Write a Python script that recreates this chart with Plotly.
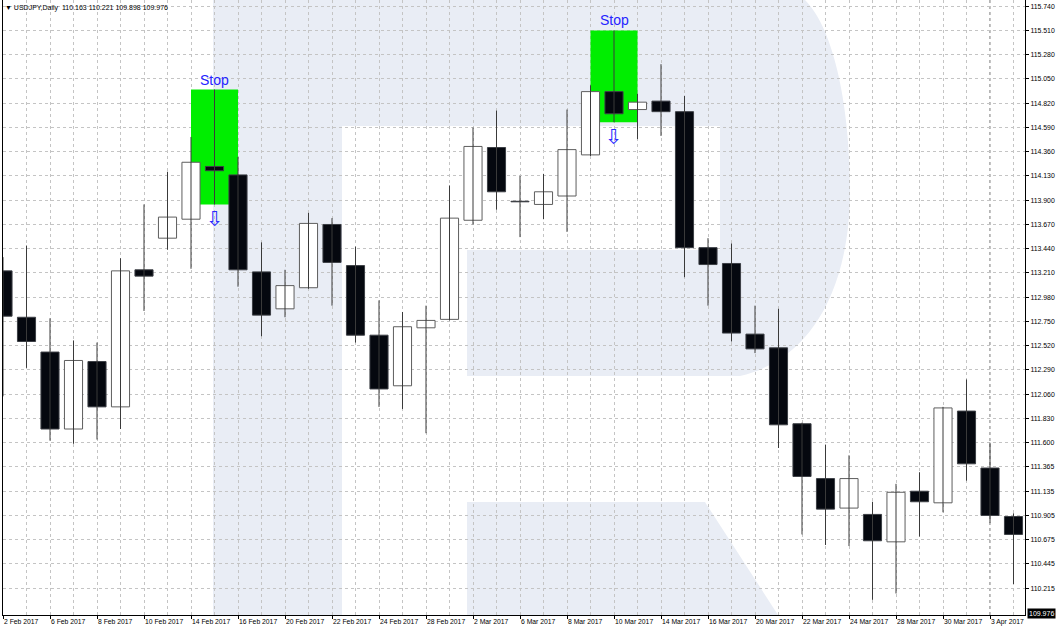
import plotly.graph_objects as go
from datetime import date

# ---------------- data ----------------
dates = ["2017-02-02", "2017-02-03", "2017-02-06", "2017-02-07", "2017-02-08", "2017-02-09",
         "2017-02-10", "2017-02-13", "2017-02-14", "2017-02-15", "2017-02-16", "2017-02-17",
         "2017-02-20", "2017-02-21", "2017-02-22", "2017-02-23", "2017-02-24", "2017-02-27",
         "2017-02-28", "2017-03-01", "2017-03-02", "2017-03-03", "2017-03-06", "2017-03-07",
         "2017-03-08", "2017-03-09", "2017-03-10", "2017-03-13", "2017-03-14", "2017-03-15",
         "2017-03-16", "2017-03-17", "2017-03-20", "2017-03-21", "2017-03-22", "2017-03-23",
         "2017-03-24", "2017-03-27", "2017-03-28", "2017-03-29", "2017-03-30", "2017-03-31",
         "2017-04-03", "2017-04-04"]

opens = [113.23, 112.79, 112.46, 111.73, 112.37, 111.94, 113.24, 113.54, 113.72, 114.22,
         114.14, 113.22, 112.87, 113.07, 113.67, 113.28, 112.62, 112.14, 112.69, 112.77,
         113.71, 114.40, 113.89, 113.86, 113.94, 114.33, 114.93, 114.76, 114.84, 114.74,
         113.45, 113.30, 112.63, 112.50, 111.78, 111.26, 110.98, 110.92, 110.66, 111.14,
         111.03, 111.90, 111.36, 110.90]
highs = [113.36, 113.47, 112.78, 112.57, 112.55, 113.35, 113.86, 114.17, 114.50, 114.95,
         114.31, 113.50, 113.24, 113.78, 113.73, 113.46, 112.95, 112.84, 112.90, 114.04,
         114.59, 114.75, 114.13, 114.15, 114.76, 114.99, 115.51, 114.91, 115.19, 114.89,
         113.54, 113.49, 112.90, 112.87, 111.79, 111.58, 111.48, 111.04, 111.21, 111.32,
         111.94, 112.20, 111.60, 110.93]
lows = [112.04, 112.31, 111.62, 111.59, 111.63, 111.73, 112.85, 113.43, 113.25, 113.86,
        113.08, 112.61, 112.79, 113.06, 112.90, 112.55, 111.94, 111.92, 111.69, 112.76,
        113.67, 113.81, 113.55, 113.72, 113.60, 114.32, 114.64, 114.48, 114.51, 113.17,
        112.90, 112.56, 112.45, 111.55, 110.73, 110.63, 110.62, 110.11, 110.17, 110.71,
        110.94, 111.24, 110.84, 110.26]
closes = [112.80, 112.56, 111.73, 112.38, 111.94, 113.23, 113.18, 113.74, 114.26, 114.18,
          113.24, 112.81, 113.09, 113.68, 113.31, 112.62, 112.11, 112.70, 112.76, 113.73,
          114.41, 113.98, 113.885, 113.98, 114.38, 114.93, 114.72, 114.83, 114.74, 113.45,
          113.29, 112.64, 112.49, 111.77, 111.28, 110.97, 111.26, 110.67, 111.13, 111.04,
          111.93, 111.40, 110.91, 110.73]

stop_bars = [9, 26]
price_ticks = [115.74, 115.51, 115.28, 115.05, 114.82, 114.59, 114.36, 114.13, 113.90,
               113.67, 113.44, 113.21, 112.98, 112.75, 112.52, 112.29, 112.06, 111.83,
               111.60, 111.37, 111.14, 110.91, 110.68, 110.45, 110.22]
price_labels = ["115.740", "115.510", "115.280", "115.050", "114.820", "114.590", "114.360",
                "114.130", "113.900", "113.670", "113.440", "113.210", "112.980", "112.750",
                "112.520", "112.290", "112.060", "111.830", "111.600", "111.365", "111.135",
                "110.905", "110.675", "110.445", "110.215"]
header = "\u25bc USDJPY,Daily  110.163 110.221 109.898 109.976"
last_price = 109.976
y_range = [109.966, 115.799]

# ---------------- figure ----------------
W, H = 1062, 630
ML, MR, MT, MB = 3, 37, 0, 15
PW, PH = W - ML - MR, H - MT - MB

n = len(dates)
idx = list(range(n))
dd = [date.fromisoformat(s) for s in dates]

FONT = "Liberation Sans, Arial, sans-serif"
GRID = "#c4c4c4"

def px(x):
    return (x - ML) / PW

def py(y):
    return 1 - (y - MT) / PH

fig = go.Figure()

# wicks
wx, wy = [], []
for i in idx:
    wx += [i, i, None]
    wy += [lows[i], highs[i], None]
fig.add_trace(go.Scatter(x=wx, y=wy, mode="lines", line=dict(color="#3a3a3a", width=1),
                         hoverinfo="skip", showlegend=False))

# bodies
bull = [c >= o for o, c in zip(opens, closes)]
fig.add_trace(go.Bar(
    x=idx,
    y=[abs(c - o) for o, c in zip(opens, closes)],
    base=[min(o, c) for o, c in zip(opens, closes)],
    width=0.77,
    marker=dict(color=["#ffffff" if b else "#05080f" for b in bull],
                line=dict(color=["#5e5e5e" if b else "#3c3f45" for b in bull], width=1)),
    hoverinfo="skip", showlegend=False))

shapes = []
# watermark "R"
path = "M {:.5f},{:.5f} L {:.5f},{:.5f} ".format(px(213), py(0), px(805), py(0))
path += "C {:.5f},{:.5f} {:.5f},{:.5f} {:.5f},{:.5f} ".format(px(835), py(30), px(850), py(110), px(850), py(190))
path += "C {:.5f},{:.5f} {:.5f},{:.5f} {:.5f},{:.5f} ".format(px(850), py(290), px(810), py(360), px(740), py(376))
for (xx, yy) in [(467, 376), (467, 250), (720, 250), (720, 126), (342, 126), (342, 615), (213, 615)]:
    path += "L {:.5f},{:.5f} ".format(px(xx), py(yy))
path += "Z"
shapes.append(dict(type="path", path=path, xref="paper", yref="paper", layer="below",
                   fillcolor="#e9edf5", line=dict(width=0)))
leg = "M {:.5f},{:.5f} ".format(px(467), py(502))
for (xx, yy) in [(705, 502), (778, 615), (467, 615)]:
    leg += "L {:.5f},{:.5f} ".format(px(xx), py(yy))
leg += "Z"
shapes.append(dict(type="path", path=leg, xref="paper", yref="paper", layer="below",
                   fillcolor="#e9edf5", line=dict(width=0)))

# month separators
for i in range(1, n):
    if dd[i].month != dd[i - 1].month:
        shapes.append(dict(type="line", x0=i, x1=i, y0=0, y1=1, xref="x", yref="paper",
                           layer="between", line=dict(color="#6a6a6a", width=1, dash="dot")))

annotations = []
for i in stop_bars:
    shapes.append(dict(type="rect", x0=i - 1, x1=i + 1, y0=lows[i], y1=highs[i],
                       xref="x", yref="y", layer="between", fillcolor="#00ee00",
                       line=dict(width=0)))
    annotations.append(dict(x=i, y=highs[i], xref="x", yref="y", text="Stop",
                            showarrow=False, yanchor="bottom", yshift=0,
                            font=dict(family=FONT, size=14, color="#2424ff")))
    annotations.append(dict(x=i, y=lows[i], xref="x", yref="y", text="\u21e9",
                            showarrow=False, yanchor="top", yshift=-1,
                            font=dict(family="DejaVu Sans", size=21, color="#2a2aff")))

annotations.append(dict(x=0, y=1, xref="paper", yref="paper", text=header, showarrow=False,
                        xanchor="left", yanchor="top", xshift=0, yshift=-2,
                        font=dict(family=FONT, size=7, color="#000000")))
annotations.append(dict(x=1, y=last_price, xref="paper", yref="y", text="%.3f" % last_price,
                        showarrow=False, xanchor="left", yanchor="middle", xshift=2,
                        bgcolor="#000000", borderpad=1,
                        font=dict(family=FONT, size=7, color="#ffffff")))

major = [i for i in idx if i % 2 == 0]
fig.update_layout(
    width=W, height=H,
    margin=dict(l=ML, r=MR, t=MT, b=MB),
    paper_bgcolor="#ffffff", plot_bgcolor="#ffffff",
    showlegend=False, shapes=shapes, annotations=annotations,
    xaxis=dict(range=[0, PW / 23.5], tickmode="array", tickvals=major,
               ticktext=["%d %s" % (dd[i].day, dd[i].strftime("%b %Y")) for i in major],
               ticklabelposition="outside right", ticks="outside", ticklen=3,
               tickangle=0,
               tickcolor="#000000", showgrid=True, gridcolor=GRID, griddash="3px,3px",
               gridwidth=1, zeroline=False, showline=True, linecolor="#000000",
               linewidth=1, automargin=False,
               tickfont=dict(family=FONT, size=6.8, color="#000000"),
               minor=dict(tickmode="array", tickvals=idx, showgrid=True, gridcolor=GRID,
                          griddash="3px,3px", ticks="")),
    yaxis=dict(range=y_range, side="right", tickmode="array", tickvals=price_ticks,
               ticktext=price_labels, ticks="outside", ticklen=3, tickcolor="#000000",
               showgrid=True, gridcolor=GRID, griddash="3px,3px", gridwidth=1,
               zeroline=False, showline=True, mirror=True, linecolor="#000000",
               linewidth=1, automargin=False,
               tickfont=dict(family=FONT, size=6.9, color="#000000")),
    bargap=0,
)

fig.write_html("out.html", config={"displayModeBar": False, "staticPlot": True},
               post_script="document.body.style.margin='0px';document.body.style.overflow='hidden';")
